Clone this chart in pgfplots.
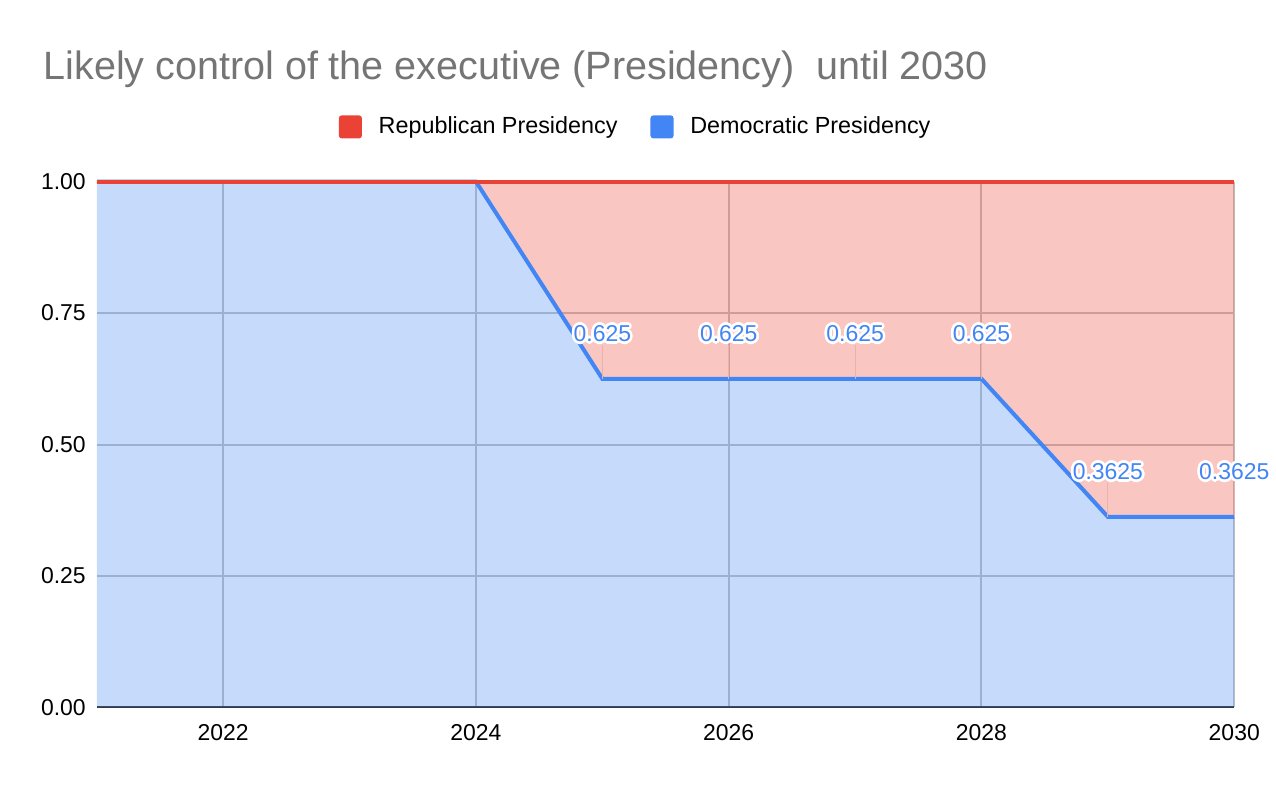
\documentclass[border=0pt]{standalone}
\usepackage{fontspec}
\setmainfont{Liberation Sans}
\usepackage{pgfplots}
\pgfplotsset{compat=1.18}
\usepgfplotslibrary{fillbetween}
\usepackage[copies]{contour}
\contourlength{1.3pt}

\definecolor{repred}{HTML}{EA4335}
\definecolor{demblue}{HTML}{4285F4}
\definecolor{gridgray}{HTML}{C4C4C4}
\definecolor{titlegray}{HTML}{757575}
\definecolor{leader}{HTML}{E6B3AF}

\pgfplotstableread{
year dem rep top
2021 1      0      1
2022 1      0      1
2023 1      0      1
2024 1      0      1
2025 0.625  0.375  1
2026 0.625  0.375  1
2027 0.625  0.375  1
2028 0.625  0.375  1
2029 0.3625 0.6375 1
2030 0.3625 0.6375 1
}\presidency

\pgfplotstableread{
year val e lab
2025 0.625  0.064 0.625
2026 0.625  0.064 0.625
2027 0.625  0.064 0.625
2028 0.625  0.064 0.625
2029 0.3625 0.064 0.3625
2030 0.3625 0.064 0.3625
}\labels

\begin{document}
\begin{tikzpicture}
\begin{axis}[
    scale only axis,
    width=570pt, height=263.5pt,
    xmin=2021, xmax=2030,
    ymin=0, ymax=1,
    clip=false,
    xtick={2022,2024,2026,2028,2030},
    ytick={0,0.25,0.5,0.75,1},
    xticklabel style={/pgf/number format/1000 sep={}, yshift=-5pt},
    yticklabel style={/pgf/number format/fixed, /pgf/number format/precision=2,
        /pgf/number format/fixed zerofill, xshift=-2pt},
    /pgf/number format/assume math mode=true,
    tick label style={font=\fontsize{11.5}{13}\selectfont, black},
    major tick length=0pt,
    grid=major,
    major grid style={gridgray, line width=1pt},
    axis x line*=bottom,
    axis y line*=left,
    x axis line style={-, draw=black!80, line width=1pt},
    y axis line style={draw=none},
    title={Likely control of the executive (Presidency)\ \ until 2030},
    title style={at={(-0.053,1.172)}, anchor=base west, font=\fontsize{19.8}{24}\selectfont, text=titlegray},
    legend columns=-1,
    legend style={at={(0.4746,1.104)}, anchor=center, draw=none, fill=none,
        font=\fontsize{11.7}{14}\selectfont,
        /tikz/every even column/.append style={column sep=14.5pt}},
]
% legend entries
\addlegendimage{legend image code/.code={\fill[fill=repred, draw=none, rounded corners=1.5pt] (0pt,-5.8pt) rectangle (11.6pt,5.8pt);
        \path[draw=none, fill=none] (0pt,0pt) -- (18pt,0pt);}}
\addlegendentry{Republican Presidency}
\addlegendimage{legend image code/.code={\fill[fill=demblue, draw=none, rounded corners=1.5pt] (0pt,-5.8pt) rectangle (11.6pt,5.8pt);
        \path[draw=none, fill=none] (0pt,0pt) -- (18pt,0pt);}}
\addlegendentry{Democratic Presidency}
% Democratic area
\addplot[draw=none, fill=demblue, fill opacity=0.3, forget plot]
  table[x=year, y=dem] {\presidency} \closedcycle;
% boundary paths
\addplot[draw=none, name path=dempath, forget plot] table[x=year, y=dem] {\presidency};
\addplot[draw=none, name path=toppath, forget plot] table[x=year, y=top] {\presidency};
% Republican area (between Democratic share and 1)
\addplot[draw=none, fill=repred, fill opacity=0.3, forget plot] fill between[of=dempath and toppath];
% lines
\addplot[demblue, line width=2pt, mark=none, forget plot] table[x=year, y=dem] {\presidency};
\addplot[repred, line width=2pt, mark=none, forget plot] table[x=year, y=top] {\presidency};
% data labels with leader lines
\addplot[draw=none, mark=none, forget plot,
    error bars/.cd, y dir=plus, y explicit, error mark=none,
    error bar style={leader, line width=0.6pt}]
  table[x=year, y=val, y error=e] {\labels};
\addplot[draw=none, mark=none, forget plot,
    point meta=explicit symbolic,
    nodes near coords={\contour{white}{\pgfplotspointmeta}},
    every node near coord/.append style={anchor=center, yshift=22pt,
        font=\fontsize{11.5}{13}\selectfont, text=demblue}]
  table[x=year, y=val, meta=lab] {\labels};
\end{axis}
\path ([shift={(-48.5pt,-39.5pt)}]current axis.south west) rectangle ([shift={(19.5pt,91pt)}]current axis.north east);
\end{tikzpicture}
\end{document}
